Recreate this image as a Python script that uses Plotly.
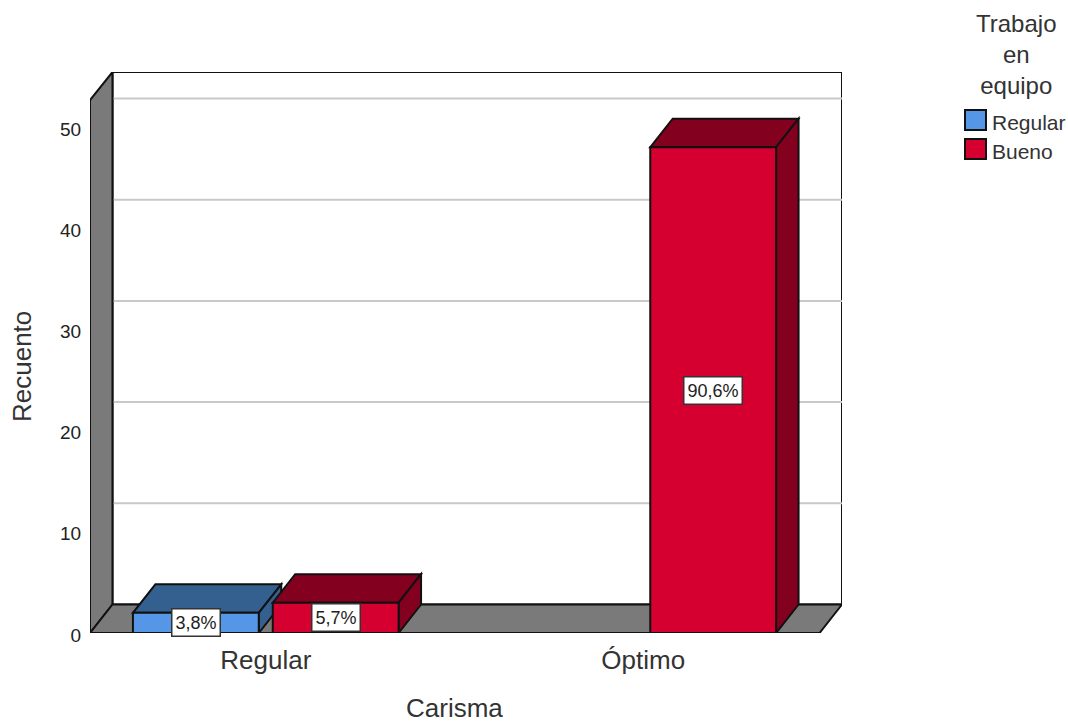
import plotly.graph_objects as go

categories = ["Regular", "Óptimo"]
series_names = ["Regular", "Bueno"]
regular_counts = [2, None]
bueno_counts = [3, 48]
regular_pct = ["3,8%", None]
bueno_pct = ["5,7%", "90,6%"]
y_ticks = [0, 10, 20, 30, 40, 50]
legend_title = "Trabajo<br>en<br>equipo"

FRONT = ["#5596E6", "#D60030"]
TOP = ["#34608F", "#84001F"]
SIDE = ["#34608F", "#84001F"]
GRAY = "#7A7A7A"
GRID = "#C9C9C9"
INK = "#111111"
FONT = "Liberation Sans"

# scale: 378 px per category, 10.12 px per count
PX_PER_COUNT = 10.12
STEP = 140 / 378
HALF = 63 / 378
DX = 22.5 / 378
DY = 28.5 / PX_PER_COUNT
X0, X1 = -176 / 378, 577 / 378
Y_TOP = 561 / PX_PER_COUNT
Y_FRONT_TOP = 533 / PX_PER_COUNT
X_FRONT_R = X1 - DX

PL, PR, PT, PB = 90, 842, 72, 633


def px(x):
    return (x - PL) / (PR - PL)


def py(y):
    return (PB - y) / (PB - PT)


def poly(points, fill, width=2, line=INK):
    path = "M" + " L".join(f"{x},{y}" for x, y in points) + " Z"
    return dict(type="path", path=path, xref="x", yref="y", layer="below",
                fillcolor=fill, line=dict(color=line, width=width))


def note(x, y, text, size, xanchor="center", angle=0):
    return dict(x=px(x), y=py(y), xref="paper", yref="paper", text=text, showarrow=False,
                xanchor=xanchor, yanchor="middle", textangle=angle, align="center",
                font=dict(family=FONT, size=size, color="#333333"))


shapes = [
    poly([(X0 + DX, DY), (X1, DY), (X1, Y_TOP), (X0 + DX, Y_TOP)], "white"),
]
for t in y_ticks[1:]:
    shapes.append(dict(type="line", xref="x", yref="y", layer="below",
                       x0=X0 + DX, x1=X1, y0=t + DY, y1=t + DY,
                       line=dict(color=GRID, width=2)))
shapes += [
    poly([(X0, 0), (X0 + DX, DY), (X0 + DX, Y_TOP), (X0, Y_FRONT_TOP)], GRAY),
    poly([(X0, 0), (X_FRONT_R, 0), (X1, DY), (X0 + DX, DY)], GRAY),
]

series = [regular_counts, bueno_counts]
labels = [regular_pct, bueno_pct]
annotations = []
traces = []
for s, values in enumerate(series):
    offset = (s - 0.5) * STEP
    traces.append(go.Bar(
        x=list(range(len(categories))), y=values, name=series_names[s],
        marker=dict(color=FRONT[s], line=dict(color=INK, width=2)),
        hoverinfo="x+y", showlegend=False,
    ))
    for c, v in enumerate(values):
        if v is None:
            continue
        left, right = c + offset - HALF, c + offset + HALF
        shapes.append(poly([(left, v), (right, v), (right + DX, v + DY), (left + DX, v + DY)], TOP[s]))
        shapes.append(poly([(right, 0), (right + DX, DY), (right + DX, v + DY), (right, v)], SIDE[s]))
        annotations.append(dict(
            x=c + offset, y=v / 2, xref="x", yref="y", text=labels[s][c], showarrow=False,
            bgcolor="white", bordercolor="#333333", borderwidth=1.5, borderpad=3,
            font=dict(family=FONT, size=18, color="#222222"),
        ))

annotations += [
    note(454, 708, "Carisma", 26),
    note(22, 367, "Recuento", 26, angle=-90),
    note(1016, 54, legend_title, 24),
]
for name, color, top in zip(series_names, FRONT, [110, 139]):
    shapes.append(dict(type="rect", xref="paper", yref="paper",
                       x0=px(965), x1=px(986), y0=py(top), y1=py(top + 20),
                       fillcolor=color, line=dict(color=INK, width=2)))
    annotations.append(note(990, top + 12, name, 21, xanchor="left"))

fig = go.Figure(traces)
fig.update_layout(
    width=1068, height=724, autosize=False,
    margin=dict(l=PL, r=1068 - PR, t=PT, b=724 - PB),
    paper_bgcolor="white", plot_bgcolor="white",
    barmode="group", bargap=1 - 2 * STEP, bargroupgap=0.1,
    shapes=shapes, annotations=annotations, showlegend=False,
    font=dict(family=FONT, color="#333333"),
    xaxis=dict(range=[X0, X1], tickvals=list(range(len(categories))), ticktext=categories,
               showgrid=False, zeroline=False, showline=False, ticks="outside", ticklen=4,
               tickcolor="rgba(0,0,0,0)", tickfont=dict(size=26, color="#333333")),
    yaxis=dict(range=[0, Y_TOP], tickvals=y_ticks, showgrid=False, zeroline=False,
               showline=False, ticks="outside", ticklen=4, tickcolor="rgba(0,0,0,0)",
               ticklabelshift=2, tickfont=dict(size=19, color="#222222")),
)
fig.write_html("out.html", config=dict(displayModeBar=False),
               post_script="document.body.style.margin='0';")
